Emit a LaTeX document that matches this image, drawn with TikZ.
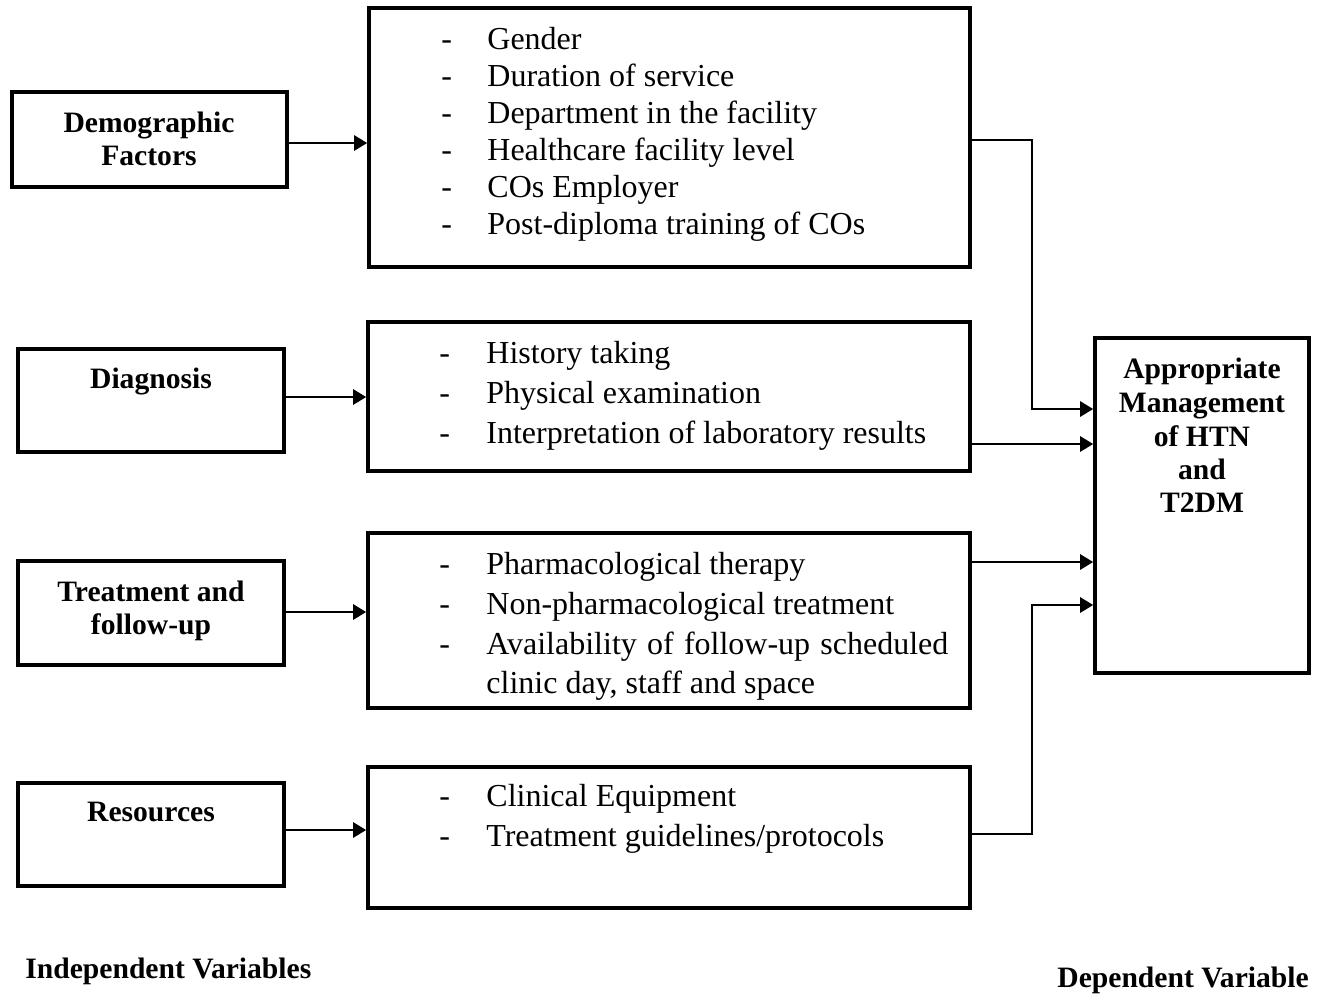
\documentclass[tikz,border=0pt]{standalone}
\usepackage{fontspec}
\setmainfont{Liberation Serif}
\usetikzlibrary{arrows.meta,fit}
\begin{document}
\begin{tikzpicture}[x=0.5pt,y=-0.5pt,
  box/.style={draw,line width=1.8pt,inner sep=0pt},
  arr/.style={line width=1.3pt,-{Triangle[length=6.5pt,width=7.5pt]}},
  body/.style={anchor=base west,inner sep=0pt,font=\fontsize{16pt}{18pt}\selectfont},
  lab/.style={anchor=base,inner sep=0pt,font=\bfseries\fontsize{14.8pt}{16.5pt}\selectfont}]
\useasboundingbox (0,0) rectangle (1321,993);

% left boxes
\node[box,fit={(12,92)(287,187)}] (demo) {};
\node[box,fit={(18,349)(284,452)}] (diag) {};
\node[box,fit={(18,561)(284,665)}] (treat) {};
\node[box,fit={(18,783)(284,886)}] (res) {};
% middle boxes
\node[box,fit={(369,8)(970,267)}] (m1) {};
\node[box,fit={(368,322)(970,471)}] (m2) {};
\node[box,fit={(368,533)(970,708)}] (m3) {};
\node[box,fit={(368,767)(970,908)}] (m4) {};
% right box
\node[box,fit={(1095,338)(1309,673)}] (out) {};

% left labels
\node[lab] (l1a) at (149,132) {Demographic};
\node[lab] (l1b) at (149,165) {Factors};
\node[lab] (l2a) at (151,388) {Diagnosis};
\node[lab] (l3a) at (151,601) {Treatment and};
\node[lab] (l3b) at (151,634) {follow-up};
\node[lab] (l4a) at (151,821) {Resources};
% right labels
\node[lab] (r1) at (1202,378) {Appropriate};
\node[lab] (r2) at (1202,412) {Management};
\node[lab] (r3) at (1202,446) {of HTN};
\node[lab] (r4) at (1202,479) {and};
\node[lab] (r5) at (1202,512) {T2DM};

% body text
\foreach \y/\t [count=\i] in {49/Gender,86/Duration of service,123/Department in the facility,160/Healthcare facility level,197/COs Employer,234/Post-diploma training of COs}{
  \node[body] (da\i) at (441,\y) {-};
  \node[body] (ta\i) at (487,\y) {\t};
}
\foreach \y/\t [count=\i] in {363/History taking,403/Physical examination,443/Interpretation of laboratory results}{
  \node[body] (db\i) at (439,\y) {-};
  \node[body] (tb\i) at (486,\y) {\t};
}
\foreach \y/\t [count=\i] in {574/Pharmacological therapy,614/Non-pharmacological treatment}{
  \node[body] (dc\i) at (439,\y) {-};
  \node[body] (tc\i) at (486,\y) {\t};
}
\node[body] (dc3) at (439,654) {-};
\node[body] (tc3) at (486,654) {\hbox to 231pt{Availability of follow-up scheduled}};
\node[body] (tc4) at (486,693) {clinic day, staff and space};
\node[body] (dd1) at (439,806) {-};
\node[body] (td1) at (486,806) {Clinical Equipment};
\node[body] (dd2) at (439,846) {-};
\node[body] (td2) at (486,846) {Treatment guidelines/protocols};

% footer labels
\node[lab,anchor=base west] (iv) at (25,978) {Independent Variables};
\node[lab,anchor=base west] (dv) at (1057,987) {Dependent Variable};

% left arrows
\coordinate (y1) at (0,143);
\coordinate (y2) at (0,397);
\coordinate (y3) at (0,612);
\coordinate (y4) at (0,830);
\draw[arr] (demo.east |- y1) -- (m1.west |- y1);
\draw[arr] (diag.east |- y2) -- (m2.west |- y2);
\draw[arr] (treat.east |- y3) -- (m3.west |- y3);
\draw[arr] (res.east |- y4) -- (m4.west |- y4);

% right connectors
\coordinate (e1) at (1032,140);
\coordinate (e1b) at (1032,409);
\coordinate (e2) at (0,444);
\coordinate (e3) at (0,562);
\coordinate (e4) at (1032,834);
\coordinate (e4b) at (1032,605);
\draw[arr] (m1.east |- e1) -- (e1) -- (e1b) -- (out.west |- e1b);
\draw[arr] (m2.east |- e2) -- (out.west |- e2);
\draw[arr] (m3.east |- e3) -- (out.west |- e3);
\draw[arr] (m4.east |- e4) -- (e4) -- (e4b) -- (out.west |- e4b);
\end{tikzpicture}
\end{document}
